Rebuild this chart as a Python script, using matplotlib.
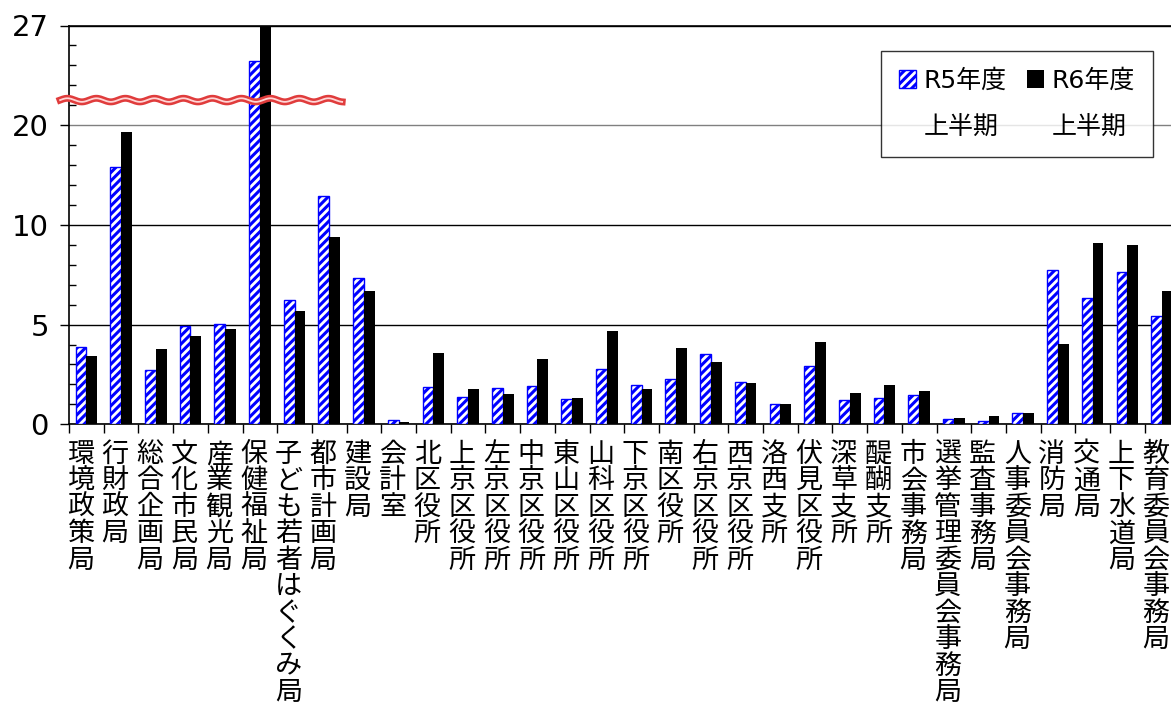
import numpy as np
import matplotlib
matplotlib.use('Agg')
import matplotlib.pyplot as plt
from matplotlib.patches import Patch
from matplotlib.transforms import ScaledTranslation

plt.rcParams['font.family'] = ['DejaVu Sans', 'Noto Sans CJK JP']
plt.rcParams['hatch.linewidth'] = 2.2

depts = ['環境政策局', '行財政局', '総合企画局', '文化市民局', '産業観光局', '保健福祉局',
         '子ども若者はぐくみ局', '都市計画局', '建設局', '会計室', '北区役所', '上京区役所',
         '左京区役所', '中京区役所', '東山区役所', '山科区役所', '下京区役所', '南区役所',
         '右京区役所', '西京区役所', '洛西支所', '伏見区役所', '深草支所', '醍醐支所',
         '市会事務局', '選挙管理委員会事務局', '監査事務局', '人事委員会事務局', '消防局',
         '交通局', '上下水道局', '教育委員会事務局']
r5 = [3.9, 15.8, 2.7, 4.95, 5.05, 24.5, 6.25, 12.9, 7.35, 0.22, 1.86, 1.36,
      1.81, 1.91, 1.27, 2.76, 1.99, 2.26, 3.55, 2.11, 1.0, 2.9, 1.24, 1.32,
      1.46, 0.25, 0.18, 0.55, 7.72, 6.31, 7.64, 5.43]
r6 = [3.42, 19.3, 3.78, 4.42, 4.79, 28.0, 5.69, 9.38, 6.7, 0.1, 3.57, 1.76,
      1.52, 3.27, 1.31, 4.67, 1.79, 3.83, 3.13, 2.09, 1.0, 4.14, 1.59, 1.96,
      1.66, 0.3, 0.4, 0.55, 4.02, 9.1, 9.01, 6.71]
yticks = [0, 5, 10, 20, 27]
yminor = [1, 2, 3, 4, 6, 7, 8, 9, 12, 14, 16, 18, 21.4, 22.8, 24.2, 25.6]

# broken axis: every labelled step gets the same height
steps = np.arange(len(yticks))
def fwd(v):
    return np.interp(v, yticks, steps)
def inv(p):
    return np.interp(p, steps, yticks)

fig = plt.figure(figsize=(11.71, 7.04), dpi=100)
ax = fig.add_axes([69/1171, 1 - 424.3/704, 1110.4/1171, 398.8/704])

x = np.arange(len(depts))
w = 0.31
b5 = ax.bar(x - w/2, r5, w, facecolor='white', edgecolor='#0000ff', hatch='////', lw=1, zorder=3)
b6 = ax.bar(x + w/2, r6, w, color='black', zorder=3)

ax.set_xlim(-0.5, len(depts) - 0.5)
ax.set_yscale('function', functions=(fwd, inv))
ax.set_ylim(0, 27)
ax.set_yticks(yticks)
ax.set_yticklabels([str(t) for t in yticks])
ax.set_yticks(yminor, minor=True)
ax.yaxis.set_minor_formatter(plt.NullFormatter())
ax.tick_params(axis='y', which='major', direction='out', length=6.5, width=1, labelsize=21, pad=8)
ax.tick_params(axis='y', which='minor', direction='in', length=5, width=1)
ax.yaxis.grid(True, which='major', color='black', lw=1)
ax.set_axisbelow(True)
t20 = ax.yaxis.get_major_ticks()[3]
t20.gridline.set_color('gray')
t20.tick1line.set_color('gray')

ax.set_xticks(x)
ax.set_xticklabels(['\n'.join(d) for d in depts], fontsize=19.5,
                   family=['Noto Sans CJK JP'], linespacing=0.975)
ax.set_xticks(np.arange(-0.5, len(depts), 1), minor=True)
ax.tick_params(axis='x', which='major', length=0, pad=12)
ax.tick_params(axis='x', which='minor', direction='out', length=6.5, width=1)
# labels sit a little left of the category centres
shift = ScaledTranslation(-6/100, 0, fig.dpi_scale_trans)
for lbl in ax.get_xticklabels():
    lbl.set_transform(lbl.get_transform() + shift)
for s in ['left', 'bottom', 'top']:
    ax.spines[s].set_linewidth(1.2)
ax.spines['right'].set_visible(False)

# wavy break marker
wx = np.linspace(-0.008, 0.246, 400)
wy = 0.813 + 0.0045 * np.sin(2 * np.pi * (wx + 0.008) * 1110.4 / 29)
ax.plot(wx, wy, color='#e03c3c', lw=5, transform=ax.transAxes, clip_on=False, zorder=5)
ax.plot(wx, wy, color='#ffd6d6', lw=1.3, transform=ax.transAxes, clip_on=False, zorder=6)

blank = Patch(facecolor='none', edgecolor='none')
leg = ax.legend([b5, blank, b6, blank], ['R5年度', '上半期', 'R6年度', '上半期'],
                ncol=2, loc='upper right', bbox_to_anchor=(0.976, 0.935),
                borderaxespad=0, fontsize=18, fancybox=False, frameon=True,
                handlelength=0.7, handleheight=0.7, handletextpad=0.3,
                columnspacing=0.8, labelspacing=0.9, borderpad=0.7)
leg.get_frame().set_edgecolor('black')
leg.get_frame().set_linewidth(1)
leg.set_zorder(10)

fig.savefig('out.png', dpi=100)
